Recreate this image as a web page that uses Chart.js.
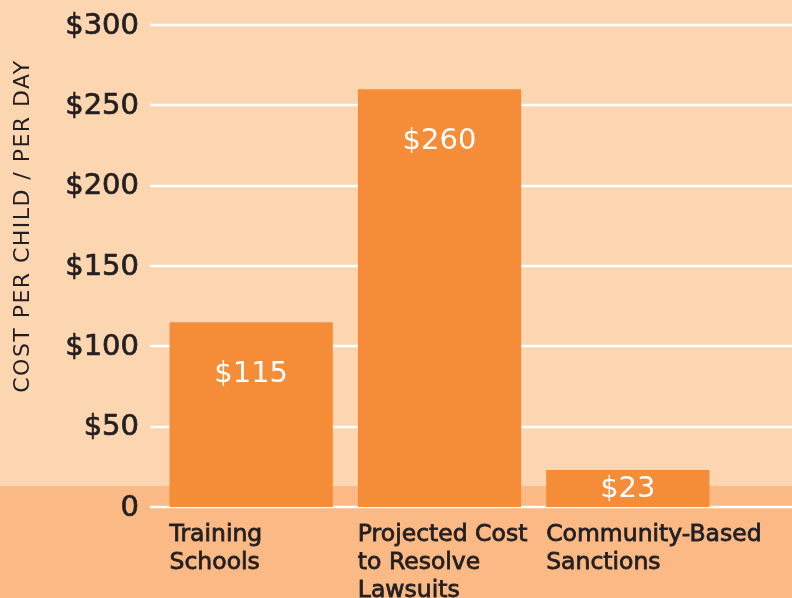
<!DOCTYPE html>
<html>
<head>
<meta charset="utf-8">
<script src="https://cdn.jsdelivr.net/npm/chart.js@4.4.1/dist/chart.umd.min.js"></script>
<style>
  html, body { margin: 0; padding: 0; background: #fcd5b1; }
  #wrap { width: 792px; height: 598px; position: relative; }
</style>
</head>
<body>
<div id="wrap"><canvas id="costChart"></canvas></div>
<script>
// Chart data
const categories = [
  ['Training', 'Schools'],
  ['Projected Cost', 'to Resolve', 'Lawsuits'],
  ['Community-Based', 'Sanctions']
];
const costPerDay = [115, 260, 23];
const yTicks = [0, 50, 100, 150, 200, 250, 300];

const FONT = '"DejaVu Sans", sans-serif';
const INK = '#231f20';

// fill text with a thin outline to get a medium weight
function heavyText(ctx, text, x, y, w) {
  ctx.lineWidth = w;
  ctx.strokeStyle = ctx.fillStyle;
  ctx.strokeText(text, x, y);
  ctx.fillText(text, x, y);
}

// background, band, full-width grid lines, labels
const decorPlugin = {
  id: 'decor',
  beforeDraw(chart) {
    const ctx = chart.ctx;
    ctx.save();
    ctx.fillStyle = '#fcd5b1';
    ctx.fillRect(0, 0, chart.width, chart.height);
    ctx.fillStyle = '#fab985';
    ctx.fillRect(0, 486, chart.width, chart.height - 486);
    ctx.restore();
  },
  beforeDatasetsDraw(chart) {
    const ctx = chart.ctx;
    const y = chart.scales.y;
    ctx.save();
    ctx.strokeStyle = '#ffffff';
    ctx.lineWidth = 2.5;
    yTicks.forEach(v => {
      const py = Math.round(y.getPixelForValue(v));
      ctx.beginPath();
      ctx.moveTo(150, py);
      ctx.lineTo(chart.width, py);
      ctx.stroke();
    });
    // tick labels
    ctx.fillStyle = INK;
    ctx.font = '29px ' + FONT;
    ctx.textAlign = 'right';
    ctx.textBaseline = 'middle';
    yTicks.forEach(v => {
      heavyText(ctx, v === 0 ? '0' : '$' + v, 139, y.getPixelForValue(v) + 1, 0.7);
    });
    // axis title
    ctx.translate(23, 226);
    ctx.rotate(-Math.PI / 2);
    ctx.font = '22px ' + FONT;
    const title = 'COST PER CHILD / PER DAY';
    const tw = ctx.measureText(title).width;
    ctx.letterSpacing = ((332 - tw) / (title.length - 1)) + 'px';
    ctx.textAlign = 'center';
    ctx.textBaseline = 'middle';
    ctx.fillText(title, 0, 0);
    ctx.restore();
  },
  afterDatasetsDraw(chart) {
    const ctx = chart.ctx;
    const meta = chart.getDatasetMeta(0);
    const zero = chart.scales.y.getPixelForValue(0);
    ctx.save();
    meta.data.forEach((bar, i) => {
      const left = bar.x - bar.width / 2;
      // value label inside bar
      const h = zero - bar.y;
      const ly = h < 100 ? bar.y + h / 2 : bar.y + 51;
      ctx.fillStyle = '#ffffff';
      ctx.font = '29px ' + FONT;
      ctx.textAlign = 'center';
      ctx.textBaseline = 'middle';
      ctx.fillText('$' + costPerDay[i], bar.x, ly + 1);
      // category label below axis
      ctx.fillStyle = INK;
      ctx.font = '23.5px ' + FONT;
      ctx.textAlign = 'left';
      ctx.textBaseline = 'alphabetic';
      categories[i].forEach((line, j) => {
        heavyText(ctx, line, left, 541 + j * 28, 0.8);
      });
    });
    ctx.restore();
  }
};

function createChart() {
  const ctx = document.getElementById('costChart').getContext('2d');
  new Chart(ctx, {
    type: 'bar',
    data: {
      labels: categories,
      datasets: [{
        data: costPerDay,
        backgroundColor: '#f58d38',
        borderWidth: 0,
        categoryPercentage: 1,
        barPercentage: 0.867
      }]
    },
    options: {
      responsive: true,
      maintainAspectRatio: false,
      animation: false,
      events: [],
      layout: { padding: { left: 157, right: 70, top: 25, bottom: 91 } },
      plugins: {
        legend: { display: false },
        tooltip: { enabled: false }
      },
      scales: {
        x: { display: false },
        y: { display: false, min: 0, max: 300 }
      }
    },
    plugins: [decorPlugin]
  });
}

document.addEventListener('DOMContentLoaded', createChart);
</script>
</body>
</html>
